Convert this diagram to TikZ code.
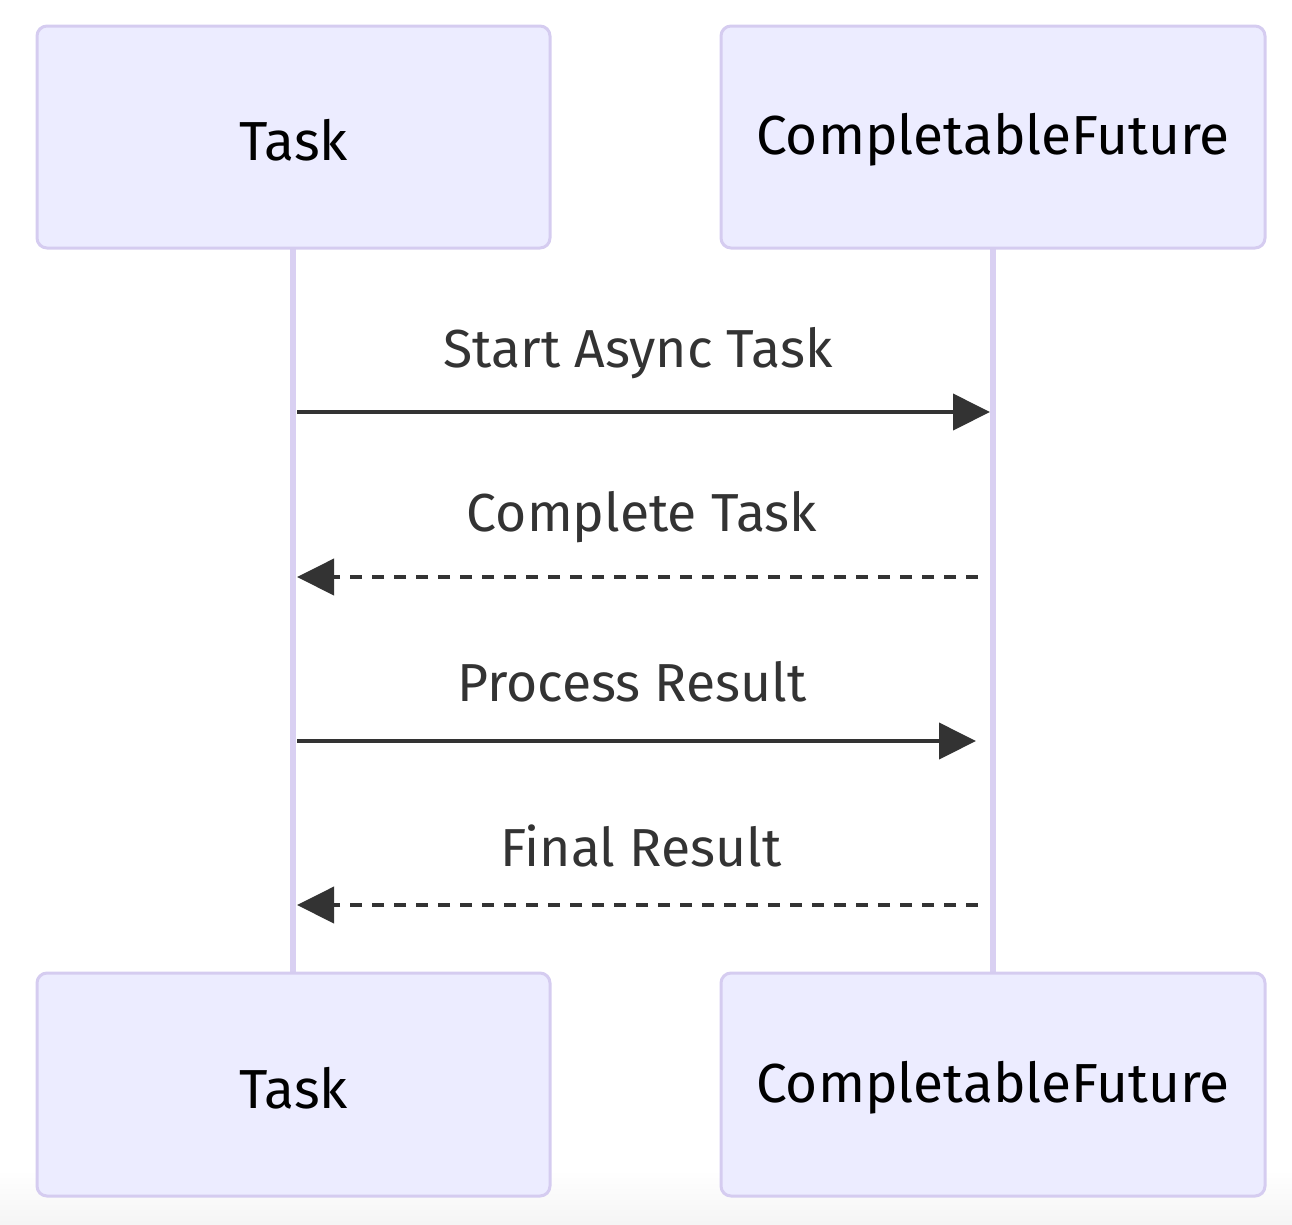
\documentclass[tikz,border=0pt]{standalone}
\usepackage{fontspec}
\setmainfont{Fira Sans}
\usetikzlibrary{arrows.meta}
\definecolor{boxfill}{HTML}{ECECFF}
\definecolor{boxline}{HTML}{D5CCF0}
\definecolor{lifeline}{HTML}{D9D0F2}
\definecolor{msg}{HTML}{333333}
\tikzset{
  actor/.style={draw=boxline, fill=boxfill, line width=3pt, rounded corners=10pt, inner sep=0pt},
  actortext/.style={font=\fontsize{55}{66}\selectfont, text=black},
  lifelinestyle/.style={draw=lifeline, line width=6pt},
  msgline/.style={draw=msg, line width=4pt, -{Triangle[length=37pt,width=36pt]}},
  msgdash/.style={msgline, dash pattern=on 12pt off 10pt},
  msglabel/.style={font=\fontsize{53.5}{62}\selectfont, text=msg},
}
\begin{document}
\begin{tikzpicture}[x=1pt,y=-1pt]
\useasboundingbox (0,0) rectangle (1292,1224);
\shade[top color=white, bottom color=black!4] (0,1170) rectangle (1292,1224);
% lifelines
\coordinate (tl1) at (293,248);
\coordinate (tl2) at (293,973);
\coordinate (cl1) at (993,248);
\coordinate (cl2) at (993,973);
\draw[lifelinestyle] (tl1) -- (tl2);
\draw[lifelinestyle] (cl1) -- (cl2);
% actors
\draw[actor] (37,26) rectangle (550,248);
\node[actortext] (taskT) at (293.5,140) {Task};
\draw[actor] (721,26) rectangle (1265,248);
\node[actortext] (cfT) at (993,140) {CompletableFuture};
\draw[actor] (37,973) rectangle (550,1196);
\node[actortext] (taskB) at (293.5,1088) {Task};
\draw[actor] (721,973) rectangle (1265,1196);
\node[actortext] (cfB) at (993,1088) {CompletableFuture};
% message anchors
\coordinate (a1s) at (297,412); \coordinate (a1e) at (990,412);
\coordinate (a2s) at (978,577); \coordinate (a2e) at (297,577);
\coordinate (a3s) at (297,741); \coordinate (a3e) at (976,741);
\coordinate (a4s) at (978,905); \coordinate (a4e) at (297,905);
\draw[msgline] (a1s) -- (a1e);
\draw[msgdash] (a2s) -- (a2e);
\draw[msgline] (a3s) -- (a3e);
\draw[msgdash] (a4s) -- (a4e);
\node[msglabel] (l1) at (638,353) {Start Async Task};
\node[msglabel] (l2) at (642,517) {Complete Task};
\node[msglabel] (l3) at (632,682) {Process Result};
\node[msglabel] (l4) at (641,846) {Final Result};
\end{tikzpicture}
\end{document}
